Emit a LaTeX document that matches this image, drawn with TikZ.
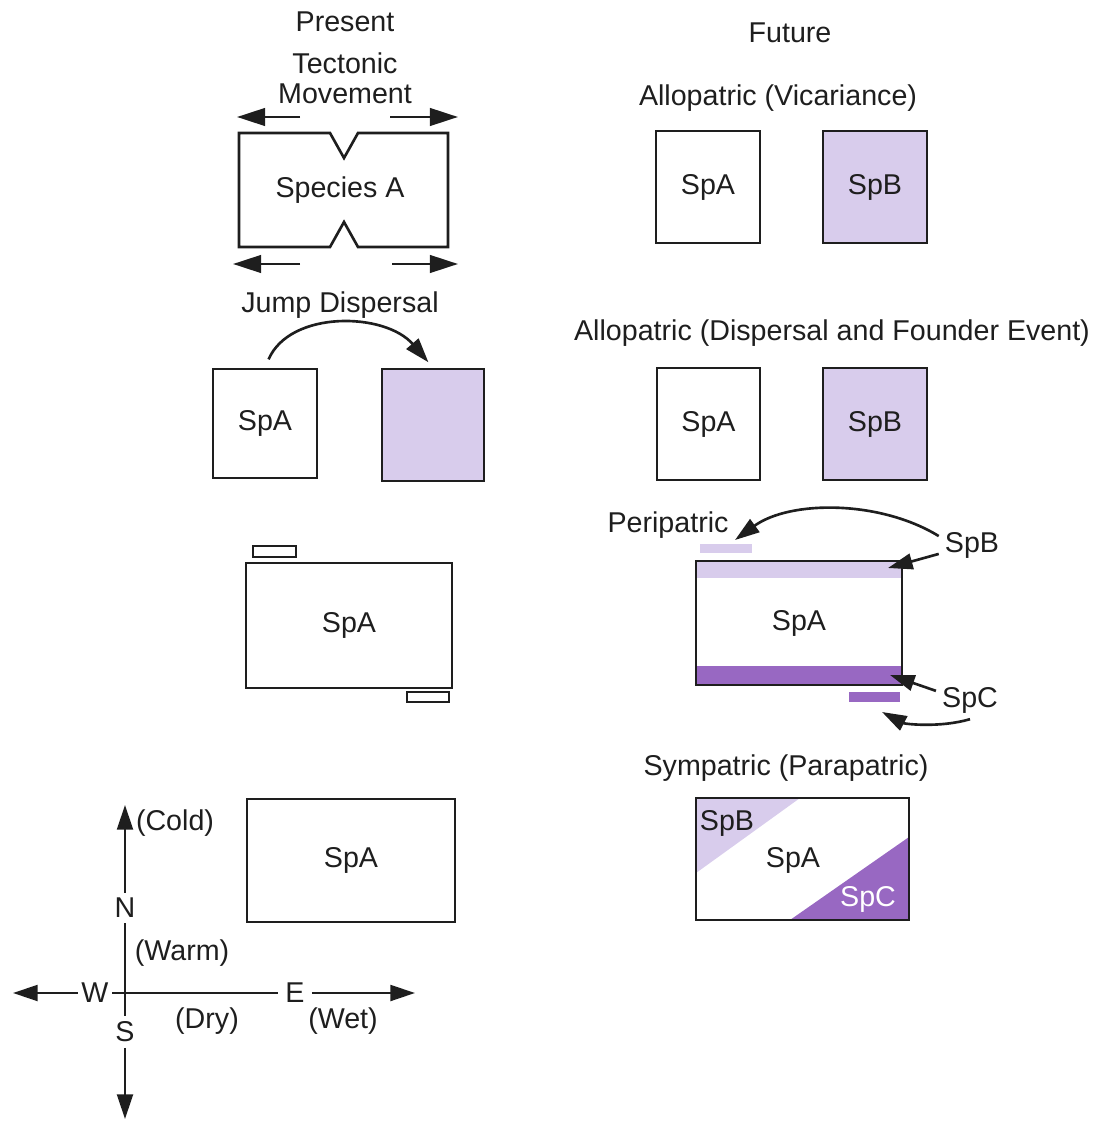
\documentclass[tikz,border=0pt]{standalone}
\usepackage{fontspec}
\setmainfont{Liberation Sans}
\usepackage{xcolor}
\usetikzlibrary{arrows.meta, positioning, fit}
\definecolor{lightpurple}{RGB}{216,204,236}
\definecolor{darkpurple}{RGB}{152,104,194}
\definecolor{ink}{RGB}{30,30,30}
\tikzset{
    every node/.style={font=\fontsize{16.3}{17}\selectfont, text=ink},
    box/.style={draw=ink, line width=1.6pt, inner sep=0pt},
    patch/.style={inner sep=0pt},
    bar/.style={draw=ink, line width=1.5pt},
    arr/.style={draw=ink, line width=1.5pt, -{Triangle[length=14pt, width=9pt]}},
    bigarr/.style={draw=ink, line width=1.5pt, -{Triangle[length=16pt, width=10pt]}},
    compass/.style={inner sep=3pt}
}

\begin{document}
\begin{tikzpicture}[x=0.02cm, y=-0.02cm]
    \useasboundingbox (0,0) rectangle (1101,1121);

    % column titles
    \node (present) at (345,22) {Present};
    \node (future) at (790,33) {Future};

    % tectonic movement
    \node[align=center] (tecto) at (345,78) {Tectonic\\Movement};
    \draw[bar, line join=miter] (239,133) -- (330,133) -- (344,158) -- (358,133) -- (448,133)
        -- (448,247) -- (358,247) -- (344,222) -- (330,247) -- (239,247) -- cycle;
    \node (spA1) at (340,190) {Species A};
    \coordinate (tl0) at (300,117); \coordinate (tl1) at (237,117);
    \coordinate (tr0) at (390,117); \coordinate (tr1) at (458,117);
    \coordinate (bl0) at (300,264); \coordinate (bl1) at (233,264);
    \coordinate (br0) at (392,264); \coordinate (br1) at (458,264);
    \draw[bigarr] (tl0) -- (tl1);
    \draw[bigarr] (tr0) -- (tr1);
    \draw[bigarr] (bl0) -- (bl1);
    \draw[bigarr] (br0) -- (br1);

    % jump dispersal
    \node (jump) at (340,305) {Jump Dispersal};
    \node[box, fit={(213,369) (317,478)}] (jA) {};
    \node (jAl) at (jA.center) {SpA};
    \node[box, fill=lightpurple, fit={(382,369) (484,481)}] (jB) {};
    \draw[arr, shorten <=0.18cm, shorten >=0.14cm] (jA.north) .. controls (290,310) and (385,312) .. (jB.north);

    % small edge patches
    \node[box, fit={(246,563) (452,688)}] (pA) {};
    \node (pAl) at (pA.center) {SpA};
    \node[box, line width=1.3pt, fit={(253,546) (296,557)}] (pS1) {};
    \node[box, line width=1.3pt, fit={(407,692) (449,702)}] (pS2) {};

    % gradient box
    \node[box, fit={(247,799) (455,922)}] (gA) {};
    \node (gAl) at (gA.center) {SpA};

    % compass
    \node[compass] (N) at (125,908) {N};
    \node[compass] (S) at (125,1032) {S};
    \node[compass, inner sep=2pt] (W) at (95,993) {W};
    \node[compass, inner sep=4pt] (E) at (295,993) {E};
    \coordinate (cN) at (125,805);
    \coordinate (cS) at (125,1119);
    \coordinate (cW) at (13,993);
    \coordinate (cE) at (415,993);
    \draw[arr] (N) -- (cN);
    \draw[arr] (S) -- (cS);
    \draw[arr] (W) -- (cW);
    \draw[arr] (E) -- (cE);
    \draw[bar] (N) -- (S);
    \draw[bar] (W) -- (E);
    \node (cold) at (175,823) {(Cold)};
    \node (warm) at (182,953) {(Warm)};
    \node (dry) at (207,1021) {(Dry)};
    \node (wet) at (343,1021) {(Wet)};

    % allopatric (vicariance)
    \node (vicar) at (778,98) {Allopatric (Vicariance)};
    \node[box, fit={(656,131) (760,243)}] (vA) {};
    \node (vAl) at (vA.center) {SpA};
    \node[box, fill=lightpurple, fit={(823,131) (927,243)}] (vB) {};
    \node (vBl) at (vB.center) {SpB};

    % allopatric (dispersal)
    \node (founder) at (832,333) {Allopatric (Dispersal and Founder Event)};
    \node[box, fit={(657,368) (760,480)}] (fA) {};
    \node (fAl) at (fA.center) {SpA};
    \node[box, fill=lightpurple, fit={(823,368) (927,480)}] (fB) {};
    \node (fBl) at (fB.center) {SpB};

    % peripatric
    \node (peri) at (668,525) {Peripatric};
    \fill[lightpurple] (696,561) rectangle (902,578);
    \fill[darkpurple] (696,666) rectangle (902,685);
    \node[box, fit={(696,561) (902,685)}] (rA) {};
    \node (rAl) at (rA.center) {SpA};
    \node[patch, fill=lightpurple, fit={(700,544) (752,553)}] (rS1) {};
    \node[patch, fill=darkpurple, fit={(849,692) (900,702)}] (rS2) {};
    \node (rB) at (972,545) {SpB};
    \node (rC) at (970,700) {SpC};
    \coordinate (periTip) at (735,540);
    \coordinate (bandB) at (888,568);
    \coordinate (bandC) at (890,675);
    \coordinate (cTip) at (882,712);
    \draw[arr] (rB.165) .. controls (880,500) and (790,500) .. (periTip);
    \draw[arr] (rB.195) -- (bandB);
    \draw[arr] (rC.165) -- (bandC);
    \draw[arr] (rC.south) .. controls (940,728) and (905,724) .. (cTip);

    % sympatric
    \node (sympa) at (786,768) {Sympatric (Parapatric)};
    \fill[lightpurple] (696,798) -- (800,798) -- (696,873) -- cycle;
    \fill[darkpurple] (909,837) -- (909,920) -- (790,920) -- cycle;
    \node[box, fit={(696,798) (909,920)}] (sBox) {};
    \node (sA) at (793,860) {SpA};
    \node (sB) at (727,823) {SpB};
    \node[text=white] (sC) at (868,899) {SpC};
\end{tikzpicture}
\end{document}
